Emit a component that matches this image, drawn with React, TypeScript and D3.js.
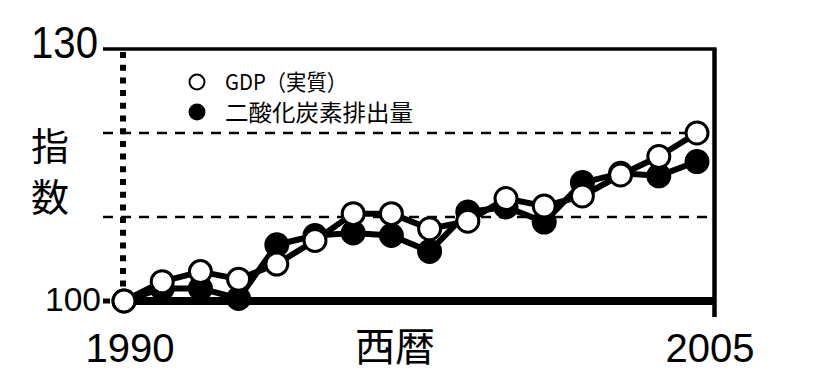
import React from "react";
import * as d3 from "d3";

const years = [1990, 1991, 1992, 1993, 1994, 1995, 1996, 1997, 1998, 1999, 2000, 2001, 2002, 2003, 2004, 2005];
const gdp = [100, 102.3, 103.5, 102.6, 104.4, 107.2, 110.4, 110.4, 108.6, 109.5, 112.2, 111.3, 112.5, 115.0, 117.2, 120.0];
const co2 = [100, 101.5, 101.5, 100.3, 106.7, 107.8, 108.1, 107.8, 105.9, 110.6, 111.2, 109.4, 114.1, 115.2, 114.9, 116.6];
const yTickLabels = ["100", "130"];
const gridValues = [110, 120];
const xTickLabels = ["1990", "2005"];
const seriesName1 = "GDP（実質）";
const seriesName2 = "二酸化炭素排出量";
const xTitle = "西暦";
const yTitleChars = ["指", "数"];

const W = 816;
const H = 380;
const LATIN = "'Liberation Sans', Arial, sans-serif";
const CJK = "'Noto Sans CJK JP', 'Liberation Sans', sans-serif";

export default function App() {
  const x = d3.scaleLinear().domain([1990, 2005]).range([124, 697]);
  const y = d3.scaleLinear().domain([100, 130]).range([301, 49]);
  const axisLeft = 103;
  const plotLeft = 123;
  const plotRight = 714.5;

  const line = d3
    .line<number>()
    .x((_, i) => x(years[i]))
    .y((d) => y(d));

  const r = 11;

  return (
    <svg
      width={W}
      height={H}
      style={{ position: "absolute", left: 0, top: 0, background: "#fff" }}
    >
      <rect x={0} y={0} width={W} height={H} fill="#fff" />
      {gridValues.map((v) => (
        <line
          key={v}
          x1={axisLeft}
          x2={plotRight}
          y1={y(v)}
          y2={y(v)}
          stroke="#000"
          strokeWidth={2.5}
          strokeDasharray="10 8"
        />
      ))}
      <line
        x1={plotLeft}
        x2={plotLeft}
        y1={y(130) + 3}
        y2={y(100)}
        stroke="#000"
        strokeWidth={6}
        strokeDasharray="6 6.7"
      />
      <line x1={axisLeft} x2={plotRight + 2} y1={y(130)} y2={y(130)} stroke="#000" strokeWidth={3.5} />
      <line x1={plotRight} x2={plotRight} y1={y(130)} y2={317} stroke="#000" strokeWidth={4.5} />
      <line x1={plotLeft} x2={plotRight} y1={y(100)} y2={y(100)} stroke="#000" strokeWidth={8} />
      <line x1={axisLeft} x2={110} y1={y(100)} y2={y(100)} stroke="#000" strokeWidth={5} />

      <text x={98} y={58} fontFamily={LATIN} fontSize={44} textAnchor="end" textLength={67} lengthAdjust="spacingAndGlyphs">
        {yTickLabels[1]}
      </text>
      <text x={101} y={311} fontFamily={LATIN} fontSize={33} textAnchor="end" textLength={56} lengthAdjust="spacingAndGlyphs">
        {yTickLabels[0]}
      </text>

      <text x={130} y={362} fontFamily={LATIN} fontSize={40} textAnchor="middle">
        {xTickLabels[0]}
      </text>
      <text x={710} y={362} fontFamily={LATIN} fontSize={40} textAnchor="middle">
        {xTickLabels[1]}
      </text>
      <text x={355} y={361} fontFamily={CJK} fontSize={40}>
        {xTitle}
      </text>

      {yTitleChars.map((c, i) => (
        <text key={c} x={50} y={160 + i * 51} fontFamily={CJK} fontSize={38} textAnchor="middle">
          {c}
        </text>
      ))}

      <path d={line(co2) || ""} fill="none" stroke="#000" strokeWidth={6} strokeLinejoin="round" />
      {co2.map((v, i) => (
        <circle key={"c" + i} cx={x(years[i])} cy={y(v)} r={r} fill="#000" stroke="#000" strokeWidth={3} />
      ))}
      <path d={line(gdp) || ""} fill="none" stroke="#000" strokeWidth={6} strokeLinejoin="round" />
      {gdp.map((v, i) => (
        <circle key={"g" + i} cx={x(years[i])} cy={y(v)} r={r} fill="#fff" stroke="#000" strokeWidth={3} />
      ))}

      <circle cx={197} cy={82} r={7.5} fill="#fff" stroke="#000" strokeWidth={2} />
      <text x={225} y={90} fontFamily={CJK} fontSize={22} textLength={122} lengthAdjust="spacingAndGlyphs">
        {seriesName1}
      </text>
      <circle cx={197} cy={112} r={8.5} fill="#000" />
      <text x={225} y={121} fontFamily={CJK} fontSize={23} textLength={188} lengthAdjust="spacingAndGlyphs">
        {seriesName2}
      </text>
    </svg>
  );
}
